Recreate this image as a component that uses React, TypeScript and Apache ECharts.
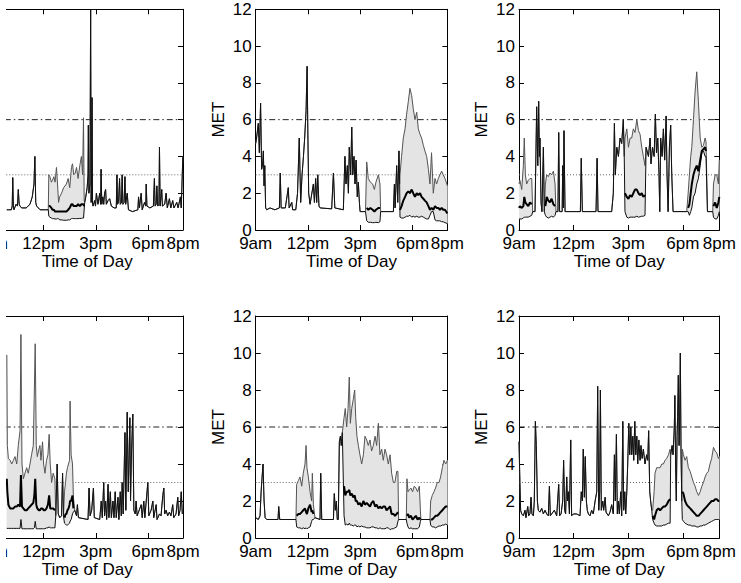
import React, { useEffect, useRef } from "react";
import * as echarts from "echarts";

const gap = (n: number): null[] => Array(n).fill(null);

const xTickValues = [9, 12, 15, 18, 20];
const xTickLabels = ["9am", "12pm", "3pm", "6pm", "8pm"];
const yMin = 0;
const yMax = 12;
const yStep = 2;
const vigorousLevel = 6;
const moderateLevel = 3;
const xTitle = "Time of Day";
const yTitle = "MET";

// ---------- Panel 1 (top left) ----------
const p1Time = [
  9.89, 9.98, 10.15, 10.2, 10.23, 10.27, 10.3, 10.42, 10.5, 10.55, 10.6, 10.65, 10.74, 11.0, 11.22, 11.35, 11.45, 11.5, 11.55, 11.6, 11.8, 12.1, 12.27,
  12.3, 12.36, 12.45, 12.51, 12.59, 12.66, 12.74, 12.8, 12.86, 12.92, 13.03, 13.15, 13.31, 13.41, 13.5, 13.6, 13.66, 13.73, 13.82, 13.89, 13.98, 14.08, 14.17, 14.24, 14.29, 14.33,
  14.36, 14.42, 14.5, 14.55, 14.57, 14.6, 14.66, 14.7, 14.73, 14.76,
  14.78, 14.81, 14.84, 14.93, 14.98, 15.03, 15.12, 15.22, 15.27, 15.3,
  15.34, 15.4, 15.45, 15.5, 15.56, 15.6, 15.7, 15.79, 15.89, 16.05,
  16.17, 16.21, 16.24, 16.3, 16.36, 16.4, 16.47, 16.51, 16.55, 16.62,
  16.67, 16.71, 16.8, 16.87, 17.1, 17.41, 17.45, 17.5, 17.6, 17.66,
  17.79, 17.86, 17.89, 17.93, 18.1, 18.3, 18.36, 18.4, 18.46, 18.5,
  18.55, 18.62, 18.65, 18.69, 18.78, 18.82, 18.95, 19.03, 19.1, 19.22,
  19.3, 19.41, 19.48, 19.64, 19.72, 19.85, 19.9, 19.99,
];
const p1Upper = [
  1.1, 1.1, 1.1, 1.3, 2.85, 1.2, 1.1, 1.4, 1.3, 2.2, 1.4, 1.3, 1.2, 1.2, 1.4, 1.8, 2.5, 4.0, 1.5, 1.3, 1.1, 1.1, 1.1,
  3.0, 2.9, 2.6, 2.7, 2.9, 2.6, 3.4, 2.5, 1.5, 1.8, 2.0, 2.3, 2.5, 2.8, 2.3, 3.4, 3.6, 3.0, 3.1, 3.4, 2.8, 3.5, 4.0, 3.0, 6.1, 1.6,
  1.5, 1.8, 2.3, 3.0, 5.7, 2.0, 2.5, 12.0, 1.5, 3.0,
  7.2, 1.4, 1.3, 1.6, 1.3, 2.0, 1.4, 2.0, 1.4, 3.3,
  1.4, 1.8, 1.4, 2.0, 2.2, 1.4, 1.6, 1.7, 1.3, 1.2,
  1.2, 3.0, 1.4, 1.5, 2.8, 1.4, 1.5, 3.0, 1.4, 1.5,
  2.9, 1.4, 2.0, 1.1, 1.0, 1.1, 1.8, 1.2, 2.0, 1.1,
  1.5, 1.3, 2.5, 1.3, 1.2, 1.3, 2.8, 1.3, 1.4, 2.4,
  1.3, 1.4, 4.5, 1.3, 2.2, 1.3, 1.4, 2.0, 1.2, 1.7,
  1.2, 1.6, 1.2, 1.5, 1.2, 1.8, 1.2, 4.0,
];
const p1Median = [
  ...gap(23),
  1.3, 1.3, 1.2, 1.1, 1.1, 1.0, 1.0, 1.0, 1.0, 1.0, 1.0, 1.0, 1.0, 1.1, 1.2, 1.4, 1.4, 1.3, 1.3, 1.3, 1.4, 1.3, 1.4, 1.4, 1.4, 1.3,
  ...gap(78),
];
const p1Lower = [
  ...gap(23),
  0.75, 0.7, 0.65, 0.62, 0.62, 0.6, 0.6, 0.62, 0.62, 0.55, 0.55, 0.53, 0.53, 0.55, 0.55, 0.62, 0.63, 0.62, 0.62, 0.62, 0.62, 0.63, 0.63, 0.65, 0.65, 0.65,
  ...gap(78),
];

// ---------- Panel 2 (top middle) ----------
const p2Time = [
  9.0, 9.05, 9.15, 9.21, 9.28, 9.34, 9.4, 9.44, 9.48, 9.52,
  9.57, 9.63, 9.82, 10.1, 10.36, 10.41, 10.46, 10.7, 10.87, 10.92,
  11.07, 11.12, 11.3, 11.4, 11.5, 11.58, 11.66, 11.74, 11.81, 11.89,
  11.95, 11.99, 12.04, 12.12, 12.31, 12.37, 12.44, 12.5, 12.56, 12.63,
  12.7, 13.36, 13.46, 13.54, 14.03, 14.12, 14.18, 14.26, 14.32, 14.37,
  14.45, 14.51, 14.57, 14.64, 14.7, 14.76, 14.83, 14.89, 14.95, 14.99,
  15.3,
  15.37, 15.46, 15.58, 15.71, 15.81, 15.9, 16.04, 16.13,
  16.17, 16.9, 16.96, 17.0, 17.09, 17.15, 17.22, 17.26,
  17.28, 17.37, 17.47, 17.57, 17.66, 17.76, 17.85, 17.95, 18.04, 18.14,
  18.24, 18.33, 18.43, 18.52, 18.62, 18.71, 18.81, 18.91, 19.0, 19.09,
  19.19, 19.29, 19.38, 19.48, 19.57, 19.67, 19.76, 19.86, 20.0,
];
const p2Upper = [
  4.7, 5.0, 5.8, 4.2, 6.9, 3.3, 3.6, 4.3, 2.4, 3.5,
  1.2, 1.1, 1.2, 1.1, 1.2, 3.1, 1.2, 1.2, 2.3, 1.2,
  1.5, 1.1, 1.1, 2.0, 5.0, 1.5, 3.0, 4.0, 5.0, 6.5,
  8.9, 5.5, 2.0, 1.4, 2.5, 1.5, 2.8, 1.5, 3.0, 1.3,
  1.2, 1.15, 3.1, 1.2, 1.1, 4.0, 2.5, 3.5, 2.0, 4.5,
  3.0, 5.6, 3.0, 4.0, 2.5, 3.8, 1.8, 2.6, 1.5, 1.0,
  1.0,
  3.7, 2.8, 2.6, 2.5, 2.2, 2.6, 3.0, 2.5,
  1.0, 1.0, 2.5, 1.2, 3.5, 1.5, 4.3, 2.5,
  3.0, 4.0, 5.0, 5.5, 6.3, 7.0, 7.7, 7.3, 6.6, 6.0,
  6.4, 5.5, 5.2, 5.0, 4.6, 4.3, 4.0, 3.3, 2.5, 4.2,
  2.0, 2.8, 2.5, 2.8, 3.0, 3.2, 3.0, 2.8, 2.4,
];
const p2Median = [
  ...gap(61),
  1.2, 1.1, 1.2, 1.1, 1.0, 1.1, 1.2, 1.2,
  ...gap(8),
  1.1, 1.3, 1.6, 1.8, 2.0, 2.1, 2.0, 2.2, 2.0, 1.8,
  2.0, 1.9, 2.0, 1.8, 1.7, 1.6, 1.5, 1.3, 1.1, 1.2,
  1.1, 1.3, 1.2, 1.2, 1.1, 1.2, 1.1, 1.1, 0.9,
];
const p2Lower = [
  ...gap(61),
  0.5, 0.42, 0.42, 0.4, 0.4, 0.42, 0.4, 0.45,
  ...gap(8),
  0.7, 0.65, 0.65, 0.7, 0.75, 0.75, 0.8, 0.7, 0.75, 0.7,
  0.75, 0.7, 0.7, 0.75, 0.7, 0.65, 0.6, 0.6, 0.8, 1.0,
  1.0, 0.55, 0.5, 0.5, 0.5, 0.45, 0.45, 0.4, 0.35,
];

// ---------- Panel 3 (top right) ----------
const p3Time = [
  9.0, 9.05, 9.15, 9.24, 9.29, 9.35, 9.42, 9.51, 9.6, 9.7,
  9.75, 9.88, 9.97, 10.03, 10.08, 10.12, 10.15, 10.21, 10.26, 10.34, 10.39,
  10.45, 10.52, 10.61, 10.7, 10.79, 10.89, 10.98,
  11.03, 11.14, 11.18, 11.23, 11.37, 11.4, 11.44, 11.47, 11.53, 12.37,
  12.42, 12.48, 13.23, 13.29, 13.34, 14.09, 14.18, 14.24, 14.29, 14.37,
  14.46, 14.55, 14.64, 14.73, 14.78,
  14.82, 14.92, 15.01, 15.1, 15.19, 15.28, 15.37, 15.47, 15.56, 15.65, 15.74, 15.83, 15.92,
  15.98, 16.01, 16.11, 16.2, 16.25, 16.33, 16.42, 16.49, 16.55, 16.62,
  16.69, 16.73, 16.78, 16.86, 16.93, 17.0, 17.08, 17.13, 17.19, 17.26,
  17.33, 17.39, 17.46, 18.21,
  18.29, 18.36, 18.43, 18.49, 18.58, 18.67, 18.76, 18.85, 18.95, 19.04, 19.13, 19.22, 19.27,
  19.35, 19.64,
  19.68, 19.77, 19.86, 19.95, 20.0,
];
const p3Upper = [
  2.5, 2.7, 2.2, 3.5, 5.0, 3.0, 2.5, 2.7, 2.8, 2.8,
  1.0, 1.0, 6.7, 3.5, 7.0, 4.0, 5.0, 1.5, 1.0, 4.5, 1.0,
  2.5, 3.0, 2.9, 3.1, 3.0, 3.2, 2.5,
  1.0, 1.0, 5.3, 1.0, 1.0, 3.5, 1.2, 5.4, 1.0, 1.0,
  3.9, 1.0, 1.0, 3.9, 1.0, 1.0, 2.0, 5.8, 3.0, 4.5,
  4.0, 5.0, 4.7, 6.0, 4.0,
  5.0, 5.5, 4.5, 5.0, 5.0, 5.5, 5.3, 6.0, 5.4, 5.2, 4.5, 4.0, 3.5,
  4.5, 4.5, 4.0, 5.0, 3.6, 4.5, 4.0, 6.3, 4.2, 5.0,
  3.0, 1.0, 5.0, 4.0, 5.5, 3.8, 6.2, 3.0, 1.0, 4.5,
  5.7, 3.0, 1.0, 1.0,
  2.0, 3.0, 4.0, 4.5, 6.0, 7.5, 8.6, 7.0, 5.0, 4.5, 4.6, 5.0, 4.8,
  1.0, 1.0,
  2.5, 3.0, 3.0, 2.5, 3.8,
];
const p3Median = [
  1.2, 1.3, 1.2, 1.3, 1.8, 1.5, 1.4, 1.3, 1.5, 1.4,
  ...gap(11),
  1.3, 1.8, 1.6, 1.5, 1.7, 1.4, 1.3,
  ...gap(25),
  2.0, 1.8, 1.7, 1.9, 1.8, 2.0, 2.2, 2.2, 2.0, 1.9, 2.0, 1.8, 1.9,
  ...gap(24),
  1.2, 1.4, 2.0, 2.5, 3.0, 3.3, 3.5, 3.2, 3.8, 4.3, 4.4, 4.5, 4.3,
  ...gap(2),
  1.3, 1.5, 1.2, 1.5, 1.8,
];
const p3Lower = [
  0.6, 0.6, 0.6, 0.65, 0.7, 0.7, 0.7, 0.7, 0.75, 0.8,
  ...gap(11),
  0.8, 0.7, 0.65, 0.7, 0.75, 0.7, 0.8,
  ...gap(25),
  1.0, 0.7, 0.65, 0.7, 0.7, 0.7, 0.7, 0.75, 0.7, 0.72, 0.75, 0.75, 0.8,
  ...gap(24),
  1.0, 0.8, 1.0, 1.2, 1.8, 2.0, 2.5, 2.8, 3.5, 4.2, 4.3, 4.0, 4.0,
  ...gap(2),
  0.7, 0.6, 0.6, 0.8, 1.0,
];

// ---------- Panel 4 (bottom left) ----------
const p4Time = [
  9.89, 9.92, 9.98, 10.08, 10.17, 10.27, 10.36, 10.46, 10.55, 10.65,
  10.7, 10.76, 10.84, 10.93, 11.03, 11.12, 11.22, 11.31, 11.41, 11.47,
  11.52, 11.58, 11.64, 11.73, 11.79, 11.85, 11.94, 12.0, 12.08, 12.17,
  12.25, 12.32, 12.38, 12.46, 12.55, 12.65,
  12.7, 12.78, 12.84, 12.93, 13.03, 13.09, 13.14,
  13.2, 13.26, 13.31, 13.37, 13.43, 13.49, 13.52, 13.58, 13.66, 13.71,
  13.79, 13.89, 13.94, 14.0, 14.55, 14.61, 14.67, 14.76, 14.86, 14.91,
  15.22, 15.31, 15.37, 15.45, 15.5, 15.56, 15.62, 15.7, 15.75, 15.83,
  15.89, 15.98, 16.04, 16.11, 16.17, 16.27, 16.32, 16.4, 16.46, 16.51,
  16.57, 16.67, 16.72, 16.8, 16.86, 16.91, 16.95, 16.99, 17.05, 17.12,
  17.18, 17.26, 17.31, 17.37, 17.6, 17.66, 17.75, 17.81, 17.98, 18.04,
  18.17, 18.27, 18.32, 18.46, 18.51, 18.65, 18.74, 18.84, 18.9, 18.95,
  19.03, 19.12, 19.22, 19.31, 19.41, 19.47, 19.6, 19.7, 19.75, 19.83,
  19.9, 19.96,
];
const p4Upper = [
  9.9, 5.0, 4.3, 4.2, 4.0, 4.2, 4.4, 4.0, 5.0, 5.8,
  11.0, 4.0, 3.2, 3.5, 3.8, 3.5, 4.0, 4.5, 5.0, 8.0,
  10.5, 5.0, 4.4, 4.8, 5.0, 4.2, 5.2, 4.0, 3.5, 4.2,
  4.5, 5.6, 4.0, 3.0, 3.5, 3.2,
  1.2, 4.0, 1.3, 1.1, 1.2, 3.5, 1.2,
  2.5, 3.0, 3.5, 3.8, 4.0, 4.2, 7.4, 4.5, 4.0, 2.2,
  1.5, 1.2, 1.8, 1.1, 1.0, 2.7, 1.2, 1.5, 2.7, 1.1,
  1.0, 2.0, 1.1, 3.0, 1.2, 2.0, 1.0, 2.9, 1.1, 2.5,
  1.1, 2.0, 1.1, 2.5, 1.1, 2.2, 1.0, 2.5, 1.2, 3.0,
  1.3, 5.7, 1.5, 6.8, 2.5, 4.5, 6.5, 2.0, 4.8, 6.7,
  1.5, 1.3, 2.0, 1.2, 1.8, 1.1, 2.0, 1.1, 3.0, 1.2,
  1.5, 2.0, 1.1, 1.8, 1.0, 1.3, 1.2, 2.3, 2.7, 1.3,
  1.5, 1.2, 1.4, 1.2, 1.8, 1.1, 1.3, 2.2, 1.2, 1.5,
  2.5, 1.3,
];
const p4Median = [
  3.2, 2.5, 1.8, 1.6, 1.6, 1.6, 1.7, 1.7, 1.8, 1.7,
  3.4, 1.7, 1.6, 1.5, 1.5, 1.6, 1.7, 1.8, 1.9, 2.3,
  3.2, 1.8, 1.6, 1.5, 1.5, 1.6, 1.6, 1.5, 1.5, 1.6,
  1.8, 2.3, 1.6, 1.6, 1.6, 1.5,
  ...gap(7),
  1.1, 1.3, 1.3, 1.5, 1.6, 1.8, 2.0, 2.0, 2.3, 1.6,
  ...gap(72),
];
const p4Lower = [
  0.52, 0.52, 0.52, 0.52, 0.52, 0.52, 0.52, 0.52, 0.52, 0.52,
  1.0, 0.5, 0.5, 0.5, 0.5, 0.5, 0.5, 0.5, 0.5, 0.55,
  0.9, 0.5, 0.5, 0.5, 0.5, 0.5, 0.5, 0.5, 0.5, 0.55,
  0.55, 0.6, 0.55, 0.55, 0.55, 0.55,
  ...gap(7),
  0.8, 0.75, 0.7, 0.7, 0.75, 0.8, 0.9, 1.0, 1.3, 1.4,
  ...gap(72),
];

// ---------- Panel 5 (bottom middle) ----------
const p5Time = [
  9.0, 9.15, 9.25, 9.31, 9.36, 9.42, 9.48, 9.54, 9.63, 10.28, 10.32, 10.38, 11.31,
  11.35, 11.45, 11.54, 11.64, 11.73, 11.83, 11.89, 11.94, 12.02, 12.12, 12.21, 12.25, 12.31,
  12.4, 12.69, 12.73, 12.79, 13.46, 13.51, 13.57, 13.63, 13.68, 13.74, 13.8, 13.86, 13.91, 13.97,
  14.07, 14.14, 14.22, 14.3, 14.37, 14.43, 14.51, 14.6, 14.68, 14.74,
  14.81, 14.89, 14.98, 15.08, 15.18, 15.27, 15.37, 15.46, 15.56, 15.65,
  15.75, 15.85, 15.94, 16.04, 16.13, 16.23, 16.32, 16.42, 16.51, 16.61,
  16.71, 16.8, 16.9, 16.99, 17.09, 17.16,
  17.2, 17.64,
  17.68, 17.74, 17.81, 17.91, 18.0, 18.1, 18.19, 18.29, 18.39, 18.45,
  18.48, 19.0,
  19.04, 19.13, 19.23, 19.32, 19.42, 19.52, 19.61, 19.71, 19.8, 19.9, 20.0,
];
const p5Upper = [
  1.1, 1.0, 1.2, 2.5, 3.2, 4.0, 2.0, 1.1, 1.0, 1.0, 1.7, 1.0, 1.0,
  2.9, 3.1, 3.3, 2.8, 3.5, 4.0, 5.0, 3.8, 3.3, 2.5, 2.0, 3.5, 1.8,
  1.1, 1.0, 3.5, 1.0, 1.0, 2.4, 1.5, 2.0, 1.0, 1.0, 5.2, 5.5, 5.0, 5.7,
  6.5, 7.0, 6.0, 7.0, 8.7, 6.2, 7.0, 7.5, 8.0, 6.5,
  5.5, 5.0, 4.5, 4.0, 4.5, 5.5, 5.3, 5.0, 5.3, 4.7,
  5.0, 5.5, 5.0, 6.2, 4.5, 4.8, 4.2, 4.8, 4.5, 4.0,
  4.5, 3.5, 3.0, 3.0, 3.6, 3.6,
  1.0, 1.0,
  3.2, 2.5, 2.6, 2.7, 2.5, 2.8, 2.7, 2.5, 2.8, 1.5,
  1.0, 1.0,
  2.0, 2.3, 2.5, 2.7, 3.0, 3.0, 3.3, 3.8, 4.2, 4.0, 4.2,
];
const p5Median = [
  ...gap(13),
  1.2, 1.3, 1.3, 1.4, 1.5, 1.6, 1.4, 1.3, 1.6, 1.8, 1.4, 1.5, 1.3,
  ...gap(14),
  2.8, 2.3, 2.5, 2.5, 2.6, 2.3, 2.4, 2.2, 2.3, 2.0,
  2.0, 1.8, 1.9, 1.7, 2.0, 1.8, 1.9, 1.8, 1.7, 1.9,
  2.0, 1.7, 1.8, 1.6, 1.7, 1.6, 1.7, 1.7, 1.5, 1.6,
  1.7, 1.3, 1.3, 1.2, 1.3, 1.4,
  ...gap(2),
  1.2, 1.3, 1.1, 1.2, 1.0, 1.1, 1.2, 1.0, 1.1, 1.0,
  ...gap(2),
  1.0, 1.0, 1.1, 1.2, 1.2, 1.3, 1.4, 1.5, 1.6, 1.7, 1.7,
];
const p5Lower = [
  ...gap(13),
  0.6, 0.55, 0.55, 0.5, 0.55, 0.5, 0.55, 0.5, 0.55, 0.6, 0.9, 1.0, 1.0,
  ...gap(14),
  1.2, 0.7, 0.75, 0.7, 0.8, 0.7, 0.7, 0.65, 0.7, 0.7,
  0.6, 0.65, 0.6, 0.65, 0.6, 0.6, 0.55, 0.55, 0.55, 0.6,
  0.6, 0.55, 0.55, 0.5, 0.55, 0.5, 0.5, 0.5, 0.55, 0.55,
  0.45, 0.5, 0.5, 0.55, 0.6, 0.9,
  ...gap(2),
  0.8, 0.6, 0.5, 0.55, 0.5, 0.5, 0.5, 0.5, 0.6, 0.9,
  ...gap(2),
  0.7, 0.6, 0.6, 0.55, 0.6, 0.65, 0.65, 0.7, 0.7, 0.75, 0.7,
];

// ---------- Panel 6 (bottom right) ----------
const p6Time = [
  9.0, 9.05, 9.09, 9.15, 9.24, 9.33, 9.38, 9.48, 9.53, 9.6,
  9.66, 9.71, 9.79, 9.84, 9.9, 9.95, 10.01, 10.06, 10.15, 10.25,
  10.34, 10.43, 10.52, 10.61, 10.67, 10.72, 10.94, 11.07, 11.18, 11.23,
  11.31, 11.4, 11.45, 11.51, 11.56, 11.62, 11.66, 11.71, 11.77, 11.84,
  11.89, 11.99, 12.17, 12.35, 12.42, 12.48, 12.53, 12.59, 12.64, 12.7,
  12.75, 12.81, 12.9, 12.99, 13.08, 13.18, 13.27, 13.32, 13.38, 13.43,
  13.47, 13.52, 13.6, 13.65, 13.73, 13.78, 13.84, 13.91, 14.0, 14.09,
  14.18, 14.24, 14.29, 14.35, 14.4, 14.46, 14.51, 14.59, 14.64, 14.7,
  14.75, 14.81, 14.86, 14.92, 14.97, 15.03, 15.08, 15.14, 15.19, 15.25,
  15.3, 15.36, 15.41, 15.47, 15.52, 15.58, 15.65, 15.7, 15.76, 15.83,
  15.92, 16.01, 16.07, 16.12, 16.18, 16.23, 16.29,
  16.34, 16.42, 16.47, 16.56, 16.66, 16.75, 16.84, 16.93, 17.02, 17.11, 17.21, 17.3,
  17.33, 17.41, 17.46, 17.53, 17.56, 17.6, 17.64, 17.68, 17.71, 17.75, 17.79, 17.82, 17.86, 17.9, 17.94,
  17.97, 18.03, 18.12, 18.21, 18.3, 18.4, 18.49, 18.58, 18.67, 18.76,
  18.86, 18.95, 19.04, 19.13, 19.22, 19.31, 19.4, 19.49, 19.58, 19.68,
  19.77, 19.86, 19.95, 20.0,
];
const p6Upper = [
  5.2, 3.0, 1.5, 1.3, 1.2, 1.5, 1.1, 1.7, 1.2, 1.3,
  2.2, 1.3, 1.2, 2.0, 6.3, 5.0, 2.0, 1.5, 1.4, 1.6,
  1.3, 1.5, 1.3, 1.2, 2.8, 1.2, 1.5, 1.2, 2.9, 1.2,
  1.3, 2.0, 4.2, 1.5, 1.3, 3.3, 2.0, 2.5, 1.3, 5.3,
  1.2, 1.3, 1.3, 1.2, 2.5, 2.0, 4.8, 2.2, 4.4, 2.0,
  1.5, 1.3, 1.2, 1.5, 1.3, 2.0, 2.5, 8.2, 1.5, 2.5,
  8.0, 1.5, 2.0, 1.5, 2.2, 1.4, 1.3, 1.2, 1.4, 1.8,
  1.3, 4.5, 2.0, 5.6, 1.3, 2.0, 1.3, 2.5, 1.2, 6.3,
  1.5, 2.5, 1.3, 2.5, 4.0, 6.2, 4.5, 6.0, 4.5, 5.5,
  4.2, 6.3, 4.5, 5.5, 4.0, 5.3, 4.2, 5.0, 4.3, 4.8,
  4.0, 4.5, 4.2, 5.8, 2.5, 2.0, 1.5,
  1.5, 2.5, 3.5, 3.8, 3.8, 3.8, 4.0, 4.0, 4.2, 4.3, 4.5, 4.8,
  4.5, 5.0, 4.5, 6.0, 7.7, 4.0, 2.0, 5.5, 6.5, 8.8, 5.0, 6.0, 10.0, 4.5, 2.0,
  4.8, 4.5, 4.2, 4.4, 3.8, 3.6, 3.3, 3.0, 2.8, 2.5,
  2.3, 2.5, 2.8, 3.0, 3.3, 3.5, 3.6, 4.0, 4.3, 4.9,
  4.7, 4.6, 4.3, 4.4,
];
const p6Median = [
  ...gap(107),
  1.2, 1.0, 1.2, 1.5, 1.6, 1.5, 1.6, 1.7, 1.7, 1.8, 2.0, 2.1,
  ...gap(15),
  2.5, 2.4, 2.0, 1.8, 1.7, 1.6, 1.5, 1.4, 1.3, 1.2,
  1.2, 1.3, 1.4, 1.5, 1.6, 1.7, 1.8, 1.9, 2.0, 2.0,
  2.1, 2.1, 2.0, 2.0,
];
const p6Lower = [
  ...gap(107),
  1.0, 0.8, 0.7, 0.65, 0.65, 0.65, 0.65, 0.7, 0.7, 0.75, 0.8, 0.8,
  ...gap(15),
  1.0, 0.9, 0.8, 0.75, 0.7, 0.7, 0.65, 0.65, 0.65, 0.6,
  0.6, 0.65, 0.65, 0.7, 0.7, 0.75, 0.8, 0.85, 0.9, 0.95,
  1.0, 1.0, 1.0, 1.0,
];

type Panel = { time: number[]; upper: number[]; median: (number | null)[]; lower: (number | null)[] };
const panels: Panel[] = [
  { time: p1Time, upper: p1Upper, median: p1Median, lower: p1Lower },
  { time: p2Time, upper: p2Upper, median: p2Median, lower: p2Lower },
  { time: p3Time, upper: p3Upper, median: p3Median, lower: p3Lower },
  { time: p4Time, upper: p4Upper, median: p4Median, lower: p4Lower },
  { time: p5Time, upper: p5Upper, median: p5Median, lower: p5Lower },
  { time: p6Time, upper: p6Upper, median: p6Median, lower: p6Lower },
];

// layout (page pixels)
const SHIFT = 20;
const boxes = [
  { left: -8.7, top: 9.3, width: 191.7, height: 220.7 },
  { left: 255.7, top: 9.3, width: 191.7, height: 220.7 },
  { left: 519, top: 9.3, width: 200.3, height: 220.7 },
  { left: -8.7, top: 316, width: 191.7, height: 222 },
  { left: 255.7, top: 316, width: 191.7, height: 222 },
  { left: 519, top: 316, width: 200.3, height: 222 },
];

const FONT = "'Liberation Sans', Arial, Helvetica, sans-serif";
const FS = 17;
const axisLineStyle = { color: "#000", width: 1 };

// contiguous band segments: [time, upper, lower], padded with the neighbouring single-trace points
function bandSegments(p: Panel): number[][][] {
  const segs: number[][][] = [];
  let cur: number[][] | null = null;
  const n = p.time.length;
  for (let k = 0; k < n; k++) {
    const lo = p.lower[k];
    if (lo != null) {
      if (!cur) {
        cur = [];
        if (k > 0 && p.lower[k - 1] == null) cur.push([p.time[k - 1], p.upper[k - 1], p.upper[k - 1]]);
        segs.push(cur);
      }
      cur.push([p.time[k], p.upper[k], lo]);
    } else {
      if (cur) cur.push([p.time[k], p.upper[k], p.upper[k]]);
      cur = null;
    }
  }
  return segs;
}

function buildOption() {
  const grid: any[] = [];
  const xAxis: any[] = [];
  const yAxis: any[] = [];
  const series: any[] = [];

  boxes.forEach((b, i) => {
    grid.push({
      left: b.left + SHIFT,
      top: b.top,
      width: b.width,
      height: b.height,
      containLabel: false,
      outerBoundsMode: "none",
      show: false,
    });
    const xCommon = {
      type: "value",
      gridIndex: i,
      min: xTickValues[0],
      max: xTickValues[xTickValues.length - 1],
      splitLine: { show: false },
      axisLine: { show: true, onZero: false, lineStyle: axisLineStyle },
      axisTick: { show: true, inside: true, length: 5, customValues: xTickValues, lineStyle: axisLineStyle },
    };
    xAxis.push({
      ...xCommon,
      position: "bottom",
      axisLabel: {
        customValues: xTickValues,
        formatter: (v: number) => {
          const k = xTickValues.findIndex((t) => Math.abs(t - v) < 1e-6);
          return k >= 0 ? xTickLabels[k] : "";
        },
        fontSize: FS,
        fontFamily: FONT,
        color: "#000",
        margin: 5,
        showMinLabel: true,
        showMaxLabel: true,
        hideOverlap: false,
      },
      name: xTitle,
      nameLocation: "middle",
      nameGap: 21,
      nameTextStyle: { fontSize: FS, fontFamily: FONT, color: "#000" },
    });
    xAxis.push({ ...xCommon, position: "top", axisLabel: { show: false } });
    const yCommon = {
      type: "value",
      gridIndex: i,
      min: yMin,
      max: yMax,
      interval: yStep,
      splitLine: { show: false },
      axisLine: { show: true, onZero: false, lineStyle: axisLineStyle },
      axisTick: { show: true, inside: true, length: 5, lineStyle: axisLineStyle },
    };
    yAxis.push({
      ...yCommon,
      position: "left",
      axisLabel: { fontSize: FS, fontFamily: FONT, color: "#000", margin: 4, showMinLabel: true, showMaxLabel: true },
      name: yTitle,
      nameLocation: "middle",
      nameGap: 29,
      nameRotate: 90,
      nameTextStyle: { fontSize: FS, fontFamily: FONT, color: "#000" },
    });
    yAxis.push({ ...yCommon, position: "right", axisLabel: { show: false } });

    const p = panels[i];
    const xi = 2 * i;
    const yi = 2 * i;
    const x0 = xTickValues[0];
    const x1 = xTickValues[xTickValues.length - 1];
    const common = {
      type: "line",
      xAxisIndex: xi,
      yAxisIndex: yi,
      symbol: "none",
      showSymbol: false,
      silent: true,
      animation: false,
    };
    const segs = bandSegments(p);

    series.push({
      ...common,
      data: [[x0, vigorousLevel], [x1, vigorousLevel]],
      lineStyle: { color: "#222", width: 1, type: [6, 3, 1.5, 3] },
      z: 1,
    });
    series.push({
      ...common,
      data: [[x0, moderateLevel], [x1, moderateLevel]],
      lineStyle: { color: "#666", width: 1, type: [1, 2] },
      z: 1,
    });
    series.push({
      type: "custom",
      xAxisIndex: xi,
      yAxisIndex: yi,
      silent: true,
      animation: false,
      clip: true,
      z: 2,
      data: segs.map((s, j) => [s[0][0], j]),
      renderItem: (params: any, api: any) => {
        const seg = segs[params.dataIndex];
        const top = seg.map((q) => api.coord([q[0], q[1]]));
        const bot = seg
          .slice()
          .reverse()
          .map((q) => api.coord([q[0], q[2]]));
        return {
          type: "polygon",
          shape: { points: top.concat(bot) },
          style: { fill: "#e4e4e4", stroke: "#e4e4e4", lineWidth: 0.5 },
        };
      },
    });
    series.push({
      ...common,
      data: p.time.map((t, k) => [t, p.upper[k]]),
      lineStyle: { color: "#555", width: 1 },
      z: 3,
    });
    series.push({
      ...common,
      data: p.time.map((t, k) => [t, p.lower[k] ?? p.upper[k]]),
      lineStyle: { color: "#111", width: 1 },
      z: 4,
    });
    series.push({
      ...common,
      data: p.time.map((t, k) => [t, p.median[k] == null ? null : p.median[k]]),
      connectNulls: false,
      lineStyle: { color: "#000", width: 2 },
      z: 5,
    });
  });

  return {
    animation: false,
    backgroundColor: "#fff",
    textStyle: { fontFamily: FONT },
    grid,
    xAxis,
    yAxis,
    series,
    graphic: [
      {
        type: "rect",
        shape: { x: 0, y: 0, width: SHIFT + 6, height: 583 },
        style: { fill: "#fff" },
        z: 100,
        silent: true,
      },
    ],
  };
}

export default function App() {
  const ref = useRef<HTMLDivElement>(null);
  useEffect(() => {
    if (!ref.current) return;
    const chart = echarts.init(ref.current, null, { renderer: "svg" });
    chart.setOption(buildOption() as any);
    return () => chart.dispose();
  }, []);
  return (
    <div
      ref={ref}
      style={{ position: "absolute", left: -SHIFT, top: 0, width: 741 + SHIFT, height: 583 }}
    />
  );
}
